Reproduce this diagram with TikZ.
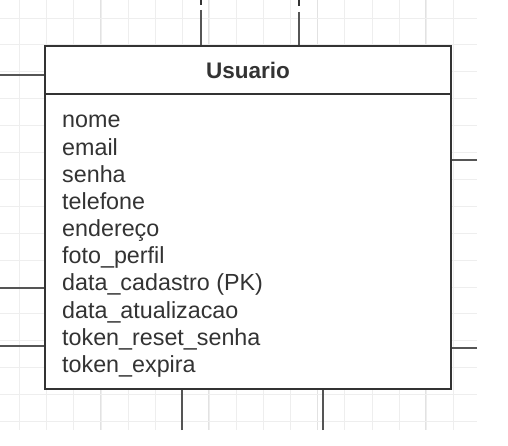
\documentclass[tikz,border=0pt]{standalone}
\usepackage{fontspec}
\setmainfont{Liberation Sans}
\definecolor{txt}{HTML}{333333}
\definecolor{bordc}{HTML}{333333}
\definecolor{linec}{HTML}{555555}
\definecolor{gridc}{HTML}{EEEEEE}
\definecolor{gridm}{HTML}{E2E2E2}
\tikzset{
  entity/.style={draw=bordc, line width=2.2pt, fill=white, rectangle, inner sep=0pt, minimum width=406pt, minimum height=343pt},
  attr/.style={anchor=base west, inner sep=0pt, text=txt, font=\fontsize{23.3}{26}\selectfont},
  title/.style={anchor=base, inner sep=0pt, text=txt, font=\fontsize{22.5}{25}\bfseries\selectfont},
  conn/.style={draw=linec, line width=1.3pt},
  stub/.style={draw=bordc, line width=2pt},
  gridline/.style={draw=gridc, line width=0.9pt},
  gridmajor/.style={draw=gridm, line width=1.1pt}
}
\begin{document}
\begin{tikzpicture}[x=1pt,y=-1pt]
\useasboundingbox (0,0) rectangle (508,446);
% grid
\foreach \k in {0,...,16} {
  \pgfmathsetmacro{\gx}{19.7+27.1*\k}
  \draw[gridline] (\gx,0) -- (\gx,430);
}
\foreach \gx in {100.5,208.9,317.3,425.7} { \draw[gridmajor] (\gx,0) -- (\gx,430); }
\foreach \k in {0,...,15} {
  \pgfmathsetmacro{\gy}{18+26.9*\k}
  \draw[gridline] (0,\gy) -- (477,\gy);
}
% entity
\node[entity] (usr) at (248,217.4) {};
\coordinate (hdl) at (45,94);
\coordinate (hdr) at (451,94);
\draw[draw=bordc, line width=2pt] (hdl -| usr.west) -- (hdr -| usr.east);
\node[title] (ttl) at (248,78.5) {Usuario};
\foreach \t [count=\i from 0] in {nome,email,senha,telefone,endereço,foto\_perfil,data\_cadastro (PK),data\_atualizacao,token\_reset\_senha,token\_expira} {
  \node[attr] (a\i) at (62,128+27.15*\i) {\t};
}
% free ends
\coordinate (t1) at (201,10);
\coordinate (t2) at (299,12);
\coordinate (s1a) at (201,0); \coordinate (s1b) at (201,5);
\coordinate (s2a) at (299,0); \coordinate (s2b) at (299,6);
\coordinate (l1) at (0,75);
\coordinate (l2) at (0,288);
\coordinate (l3) at (0,346);
\coordinate (r1) at (477,160);
\coordinate (r2) at (477,348);
\coordinate (b1) at (182,430);
\coordinate (b2) at (323,430);
% connectors
\draw[stub] (s1a) -- (s1b);
\draw[stub] (s2a) -- (s2b);
\draw[conn] (t1) -- (t1 |- usr.north);
\draw[conn] (t2) -- (t2 |- usr.north);
\draw[conn] (l1) -- (l1 -| usr.west);
\draw[conn] (l2) -- (l2 -| usr.west);
\draw[conn] (l3) -- (l3 -| usr.west);
\draw[conn] (r1) -- (r1 -| usr.east);
\draw[conn] (r2) -- (r2 -| usr.east);
\draw[conn] (b1) -- (b1 |- usr.south);
\draw[conn] (b2) -- (b2 |- usr.south);
\end{tikzpicture}
\end{document}
